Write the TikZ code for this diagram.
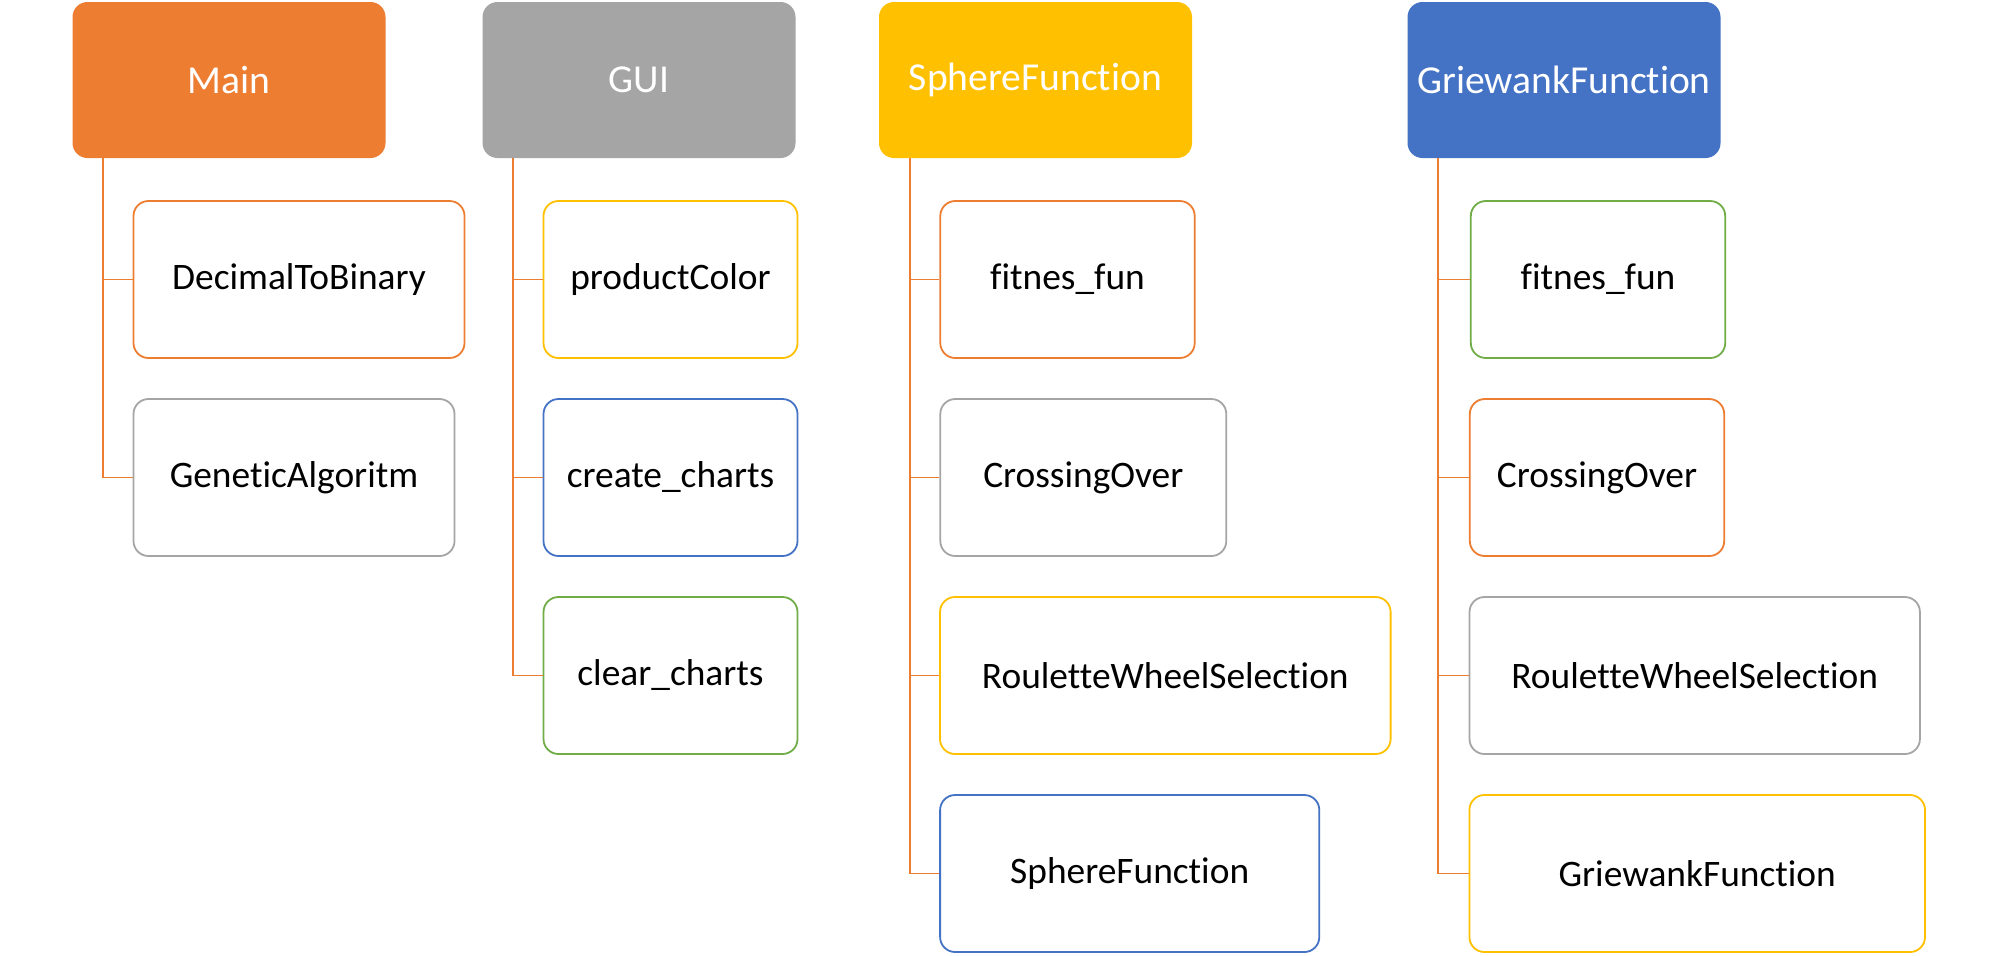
\documentclass[tikz,border=0pt]{standalone}
\usepackage{fontspec}
\setmainfont{Carlito}[Ligatures={NoCommon}]
\definecolor{cOrange}{HTML}{ED7D31}
\definecolor{cGray}{HTML}{A5A5A5}
\definecolor{cYellow}{HTML}{FFC000}
\definecolor{cBlue}{HTML}{4472C4}
\definecolor{cGreen}{HTML}{70AD47}
\tikzset{
  px/.style={x=0.5pt,y=-0.5pt},
  headbox/.style={rectangle,rounded corners=7.5pt,fill=#1,draw=none,text=white,
    minimum width=156.5pt,minimum height=78pt,inner sep=0pt,font=\fontsize{19.8}{23}\selectfont},
  itembox/.style={rectangle,rounded corners=7.5pt,draw=#1,line width=0.9pt,fill=white,text=black,
    minimum height=78.5pt,inner sep=0pt,font=\fontsize{18.7}{22}\selectfont},
  conn/.style={draw=cOrange,line width=0.9pt},
}
\begin{document}
\begin{tikzpicture}[px]
\useasboundingbox (0,0) rectangle (1995,955);
% heads
\node[headbox=cOrange] (main) at (229,80) {Main};
\node[headbox=cGray] (gui) at (639,80) {GUI};
\node[headbox=cYellow] (sph) at (1035.5,80) {SphereFunction};
\node[headbox=cBlue] (gri) at (1564,80) {GriewankFunction};
% Main children
\node[itembox=cOrange,minimum width=165.5pt] (m1) at (299,279.5) {DecimalToBinary};
\node[itembox=cGray,minimum width=160.5pt] (m2) at (294,477.5) {GeneticAlgoritm};
% GUI children
\node[itembox=cYellow,minimum width=127pt] (g1) at (670.5,279.5) {productColor};
\node[itembox=cBlue,minimum width=127pt] (g2) at (670.5,477.5) {create\_charts};
\node[itembox=cGreen,minimum width=127pt] (g3) at (670.5,675.5) {clear\_charts};
% Sphere children
\node[itembox=cOrange,minimum width=127.2pt] (s1) at (1067.5,279.5) {fitnes\_fun};
\node[itembox=cGray,minimum width=143pt] (s2) at (1083.3,477.5) {CrossingOver};
\node[itembox=cYellow,minimum width=225.3pt] (s3) at (1165.3,675.5) {RouletteWheelSelection};
\node[itembox=cBlue,minimum width=189.6pt] (s4) at (1129.7,873.5) {SphereFunction};
% Griewank children
\node[itembox=cGreen,minimum width=127.2pt] (r1) at (1598,279.5) {fitnes\_fun};
\node[itembox=cOrange,minimum width=127.2pt] (r2) at (1597,477.5) {CrossingOver};
\node[itembox=cGray,minimum width=225.2pt] (r3) at (1694.7,675.5) {RouletteWheelSelection};
\node[itembox=cYellow,minimum width=227.8pt] (r4) at (1697.2,873.5) {GriewankFunction};
% connectors
\foreach \p/\c in {main/m1,main/m2,gui/g1,gui/g2,gui/g3,sph/s1,sph/s2,sph/s3,sph/s4,gri/r1,gri/r2,gri/r3,gri/r4}
  \draw[conn] ([xshift=15.5pt]\p.south west) |- (\c.west);
\end{tikzpicture}
\end{document}
